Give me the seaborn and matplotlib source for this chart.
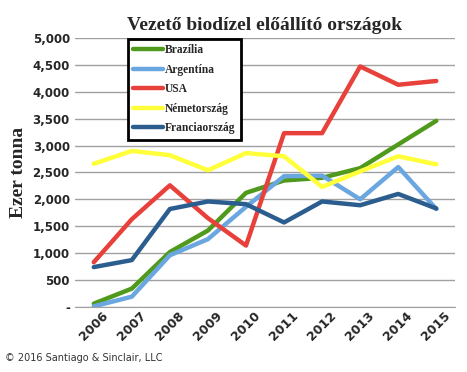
import pandas as pd
import matplotlib.pyplot as plt
import seaborn as sns
from matplotlib.ticker import FuncFormatter

years = [2006, 2007, 2008, 2009, 2010, 2011, 2012, 2013, 2014, 2015]
brazil = [60, 340, 1020, 1420, 2120, 2350, 2400, 2580, 3020, 3460]
argentina = [10, 190, 960, 1260, 1860, 2430, 2440, 2000, 2600, 1820]
usa = [830, 1630, 2260, 1650, 1140, 3230, 3230, 4470, 4130, 4200]
germany = [2660, 2900, 2820, 2540, 2860, 2800, 2230, 2520, 2800, 2650]
france = [740, 870, 1820, 1960, 1910, 1570, 1960, 1890, 2100, 1830]

countries = ["Brazília", "Argentína", "USA", "Németország", "Franciaország"]
colors = ["#4f9a1c", "#6aa6e0", "#e8403a", "#ffff3a", "#2b5d8e"]

df = pd.DataFrame({
    "Year": years * 5,
    "Value": brazil + argentina + usa + germany + france,
    "Country": sum([[c] * len(years) for c in countries], []),
})

sns.set_style("white")
fig = plt.figure(figsize=(4.67, 3.72), dpi=100)
ax = fig.add_axes([0.16, 0.175, 0.815, 0.723])

sns.lineplot(data=df, x="Year", y="Value", hue="Country", palette=colors,
             hue_order=countries, linewidth=3.2, ax=ax)

ax.set_xlim(2005.5, 2015.5)
ax.set_ylim(0, 5000)
ax.set_yticks(range(0, 5001, 500))
ax.yaxis.set_major_formatter(FuncFormatter(lambda v, p: "-" if v == 0 else f"{int(v):,}"))
ax.set_xticks(years)
ax.set_xticklabels([str(y) for y in years], rotation=45, fontweight="bold", fontsize=9)
for lbl in ax.get_yticklabels():
    lbl.set_fontweight("bold")
    lbl.set_fontsize(8.5)
ax.grid(axis="y", color="#a0a0a0", linewidth=1)
ax.set_axisbelow(True)
for s in ["top", "right", "left"]:
    ax.spines[s].set_visible(False)
ax.spines["bottom"].set_color("#a0a0a0")
ax.tick_params(axis="x", length=0, pad=2)
ax.tick_params(axis="y", length=0)

ax.set_xlabel("")
ax.set_ylabel("Ezer tonna", fontfamily="Liberation Serif", fontweight="bold", fontsize=14)
ax.set_title("Vezető biodízel előállító országok", fontfamily="Liberation Serif",
             fontweight="bold", fontsize=14, pad=6)

leg = ax.legend(loc="upper left", bbox_to_anchor=(0.14, 0.995), frameon=True,
                fancybox=False, edgecolor="black", handlelength=2.6,
                handletextpad=0.15, labelspacing=0.65, borderpad=0.45,
                borderaxespad=0.0,
                prop={"family": "Liberation Serif", "weight": "bold", "size": 8.3})
leg.get_frame().set_linewidth(2)
leg.get_frame().set_alpha(1)

fig.text(0.01, 0.03, "© 2016 Santiago & Sinclair, LLC", fontsize=7, color="#333333")

fig.savefig("out.png", dpi=100)
